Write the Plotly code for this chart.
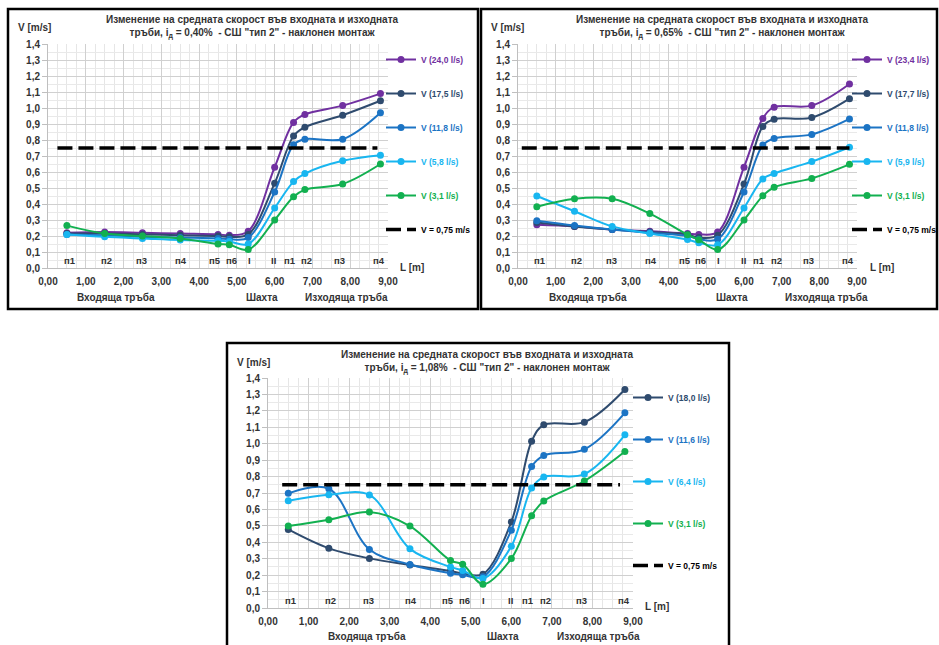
import plotly.graph_objects as go

W, H = 939, 645

# ---------------- data ----------------
x_pts = [0.5, 1.5, 2.5, 3.5, 4.5, 4.8, 5.3, 6.0, 6.5, 6.8, 7.8, 8.8]
pt_labels = ["п1", "п2", "п3", "п4", "п5", "п6", "I", "II", "п1", "п2", "п3", "п4"]

# chart 1 : i = 0,40 %
c1_names = ["V (24,0 l/s)", "V (17,5 l/s)", "V (11,8 l/s)", "V (5,8 l/s)", "V (3,1 l/s)"]
c1_v1 = [0.22, 0.225, 0.22, 0.215, 0.21, 0.205, 0.23, 0.63, 0.91, 0.96, 1.015, 1.09]
c1_v2 = [0.215, 0.215, 0.21, 0.205, 0.20, 0.195, 0.21, 0.53, 0.825, 0.88, 0.955, 1.045]
c1_v3 = [0.21, 0.205, 0.195, 0.19, 0.185, 0.18, 0.19, 0.475, 0.77, 0.805, 0.805, 0.97]
c1_v4 = [0.21, 0.195, 0.185, 0.175, 0.17, 0.165, 0.15, 0.375, 0.54, 0.59, 0.67, 0.705]
c1_v5 = [0.265, 0.215, 0.20, 0.185, 0.15, 0.145, 0.115, 0.30, 0.445, 0.49, 0.525, 0.65]

# chart 2 : i = 0,65 %
c2_names = ["V (23,4 l/s)", "V (17,7 l/s)", "V (11,8 l/s)", "V (5,9 l/s)", "V (3,1 l/s)"]
c2_v1 = [0.27, 0.26, 0.24, 0.23, 0.215, 0.21, 0.225, 0.63, 0.935, 1.005, 1.015, 1.15]
c2_v2 = [0.285, 0.26, 0.24, 0.225, 0.21, 0.19, 0.205, 0.525, 0.885, 0.93, 0.94, 1.058]
c2_v3 = [0.295, 0.265, 0.24, 0.22, 0.20, 0.18, 0.18, 0.475, 0.768, 0.81, 0.835, 0.932]
c2_v4 = [0.45, 0.355, 0.26, 0.215, 0.178, 0.158, 0.145, 0.375, 0.557, 0.591, 0.665, 0.755]
c2_v5 = [0.383, 0.433, 0.433, 0.34, 0.208, 0.177, 0.115, 0.30, 0.451, 0.504, 0.56, 0.648]

# chart 3 : i = 1,08 %
c3_names = ["V (18,0 l/s)", "V (11,6 l/s)", "V (6,4 l/s)", "V (3,1 l/s)"]
c3_v1 = [0.478, 0.363, 0.302, 0.262, 0.225, 0.21, 0.206, 0.524, 1.015, 1.115, 1.131, 1.33]
c3_v2 = [0.698, 0.726, 0.356, 0.265, 0.212, 0.202, 0.19, 0.474, 0.861, 0.928, 0.966, 1.188]
c3_v3 = [0.653, 0.689, 0.688, 0.36, 0.25, 0.228, 0.18, 0.376, 0.73, 0.797, 0.815, 1.054]
c3_v4 = [0.499, 0.537, 0.584, 0.499, 0.289, 0.267, 0.145, 0.301, 0.562, 0.651, 0.773, 0.953]

limit_name = "V = 0,75 m/s"
limit_value = 0.75
limit_x1 = [0.25, 8.72]
limit_x2 = [0.1, 8.8]
limit_x3 = [0.35, 8.68]

titles = [
    "Изменение на средната скорост във входната и изходната<br>тръби, i<sub>д</sub> = 0,40%  - СШ \"тип 2\" - наклонен монтаж",
    "Изменение на средната скорост във входната и изходната<br>тръби, i<sub>д</sub> = 0,65%  - СШ \"тип 2\" - наклонен монтаж",
    "Изменение на средната скорост във входната и изходната<br>тръби, i<sub>д</sub> = 1,08%  - СШ \"тип 2\" - наклонен монтаж",
]
section_labels = ["Входяща тръба", "Шахта", "Изходяща тръба"]

# ---------------- style ----------------
PURPLE = "#7030A0"
DARK = "#2F4B6E"
BLUE = "#1C74C4"
LIGHT = "#18B6F0"
GREEN = "#12B050"
c12_colors = [PURPLE, DARK, BLUE, LIGHT, GREEN]
c3_colors = [DARK, BLUE, LIGHT, GREEN]
FONT = "Liberation Sans, Arial, sans-serif"
TXT = "#333333"
label_shift_px = [3, 2, -1, 1, -3, 2, 1, -1, -4, 2, -3, -1]


def fx(px):
    return px / W


def fy(py):
    return 1 - py / H


# panel geometry in pixels: plot area (x0, x1, ytop, ybottom)
panels = [
    dict(x0=48, x1=388, yt=44, yb=268),
    dict(x0=518, x1=857, yt=44, yb=268),
    dict(x0=268, x1=633, yt=378, yb=608),
]

fig = go.Figure()

series_sets = [
    (c1_names, [c1_v1, c1_v2, c1_v3, c1_v4, c1_v5], c12_colors, limit_x1),
    (c2_names, [c2_v1, c2_v2, c2_v3, c2_v4, c2_v5], c12_colors, limit_x2),
    (c3_names, [c3_v1, c3_v2, c3_v3, c3_v4], c3_colors, limit_x3),
]

for i, (names, vals, cols, lx) in enumerate(series_sets):
    sfx = "" if i == 0 else str(i + 1)
    leg = "legend" + sfx
    for j, (nm, v, c) in enumerate(zip(names, vals, cols)):
        fig.add_trace(go.Scatter(
            x=x_pts, y=v, mode="lines+markers",
            name=f'<span style="color:{c}">{nm}</span>',
            line=dict(color=c, width=2, shape="spline", smoothing=1.0),
            marker=dict(color=c, size=7),
            xaxis="x" + sfx, yaxis="y" + sfx,
            legend=leg, legendgroup=f"g{i}_{j}", showlegend=True,
        ))
    fig.add_trace(go.Scatter(
        x=lx, y=[limit_value, limit_value], mode="lines",
        name=f'<span style="color:#000000">{limit_name}</span>',
        line=dict(color="#000000", width=3.5, dash="15px,6px"),
        xaxis="x" + sfx, yaxis="y" + sfx,
        legend=leg, legendgroup=f"g{i}_lim", showlegend=True,
    ))

tickfont = dict(family=FONT, size=10, color=TXT, weight="bold")
layout = dict(
    width=W, height=H,
    margin=dict(l=0, r=0, t=0, b=0, autoexpand=False),
    paper_bgcolor="white", plot_bgcolor="white",
    separators=", ",
    showlegend=True,
    font=dict(family=FONT, size=10, color=TXT),
)

for i, p in enumerate(panels):
    sfx = "" if i == 0 else str(i + 1)
    layout["xaxis" + sfx] = dict(
        domain=[fx(p["x0"]), fx(p["x1"])], anchor="y" + sfx,
        range=[0, 9], dtick=1, tick0=0, tickformat=".2f",
        showgrid=True, gridcolor="#D0D0D0", gridwidth=1,
        minor=dict(dtick=0.25, showgrid=True, gridcolor="#E6E6E6", gridwidth=1),
        zeroline=False, showline=True, linecolor="#BFBFBF", linewidth=1,
        ticks="", tickfont=tickfont, ticklabelstandoff=4, fixedrange=True,
    )
    layout["yaxis" + sfx] = dict(
        domain=[fy(p["yb"]), fy(p["yt"])], anchor="x" + sfx,
        range=[0, 1.4], dtick=0.1, tick0=0, tickformat=".1f",
        showgrid=True, gridcolor="#D0D0D0", gridwidth=1,
        minor=dict(dtick=0.05, showgrid=True, gridcolor="#E9E9E9", gridwidth=1),
        zeroline=False, showline=True, linecolor="#BFBFBF", linewidth=1,
        ticks="outside", ticklen=5, tickcolor="#BFBFBF",
        tickfont=tickfont, fixedrange=True,
    )

legfont = dict(family=FONT, size=8.5, weight="bold")
layout["legend"] = dict(x=fx(381), y=fy(45), xanchor="left", yanchor="top",
                        tracegroupgap=15, font=legfont, bgcolor="rgba(0,0,0,0)",
                        itemwidth=30)
layout["legend2"] = dict(x=fx(847), y=fy(45), xanchor="left", yanchor="top",
                         tracegroupgap=15, font=legfont, bgcolor="rgba(0,0,0,0)",
                         itemwidth=30)
layout["legend3"] = dict(x=fx(628), y=fy(383), xanchor="left", yanchor="top",
                         tracegroupgap=23, font=legfont, bgcolor="rgba(0,0,0,0)",
                         itemwidth=30)

fig.update_layout(**layout)

# ---------------- annotations ----------------
ann = []
afont = dict(family=FONT, size=10, color=TXT, weight="bold")
pfont = dict(family=FONT, size=9.5, color=TXT, weight="bold")
title_pos = [(252, 27.5), (722, 27.5), (487, 361.5)]
vlab_pos = [(34, 28), (507, 28), (254, 362)]
llab_pos = [(412, 267), (882, 267), (657, 606)]
sec_pos = [
    [(116, 297), (262, 297), (346, 297)],
    [(588, 297), (732, 297), (826, 297)],
    [(367, 636), (503, 636), (598, 636)],
]
for i in range(3):
    sfx = "" if i == 0 else str(i + 1)
    tx, ty = title_pos[i]
    ann.append(dict(x=fx(tx), y=fy(ty), xref="paper", yref="paper", text=titles[i],
                    showarrow=False, xanchor="center", yanchor="middle",
                    font=dict(family=FONT, size=10, color=TXT, weight="bold")))
    vx, vy = vlab_pos[i]
    ann.append(dict(x=fx(vx), y=fy(vy), xref="paper", yref="paper", text="V [m/s]",
                    showarrow=False, xanchor="center", yanchor="middle", font=afont))
    lx_, ly_ = llab_pos[i]
    ann.append(dict(x=fx(lx_), y=fy(ly_), xref="paper", yref="paper", text="L [m]",
                    showarrow=False, xanchor="center", yanchor="middle", font=afont))
    for lab, (sx, sy) in zip(section_labels, sec_pos[i]):
        ann.append(dict(x=fx(sx), y=fy(sy), xref="paper", yref="paper", text=lab,
                        showarrow=False, xanchor="center", yanchor="middle", font=afont))
    for xv, lab, sh in zip(x_pts, pt_labels, label_shift_px):
        ann.append(dict(x=xv, y=0.045, xref="x" + sfx, yref="y" + sfx, text=lab,
                        showarrow=False, xanchor="center", yanchor="middle",
                        xshift=sh, font=pfont))

shapes = [
    dict(type="rect", xref="paper", yref="paper", x0=fx(8), x1=fx(478), y0=fy(309), y1=fy(9),
         line=dict(color="#000000", width=2.5)),
    dict(type="rect", xref="paper", yref="paper", x0=fx(481), x1=fx(937), y0=fy(309), y1=fy(9),
         line=dict(color="#000000", width=2.5)),
    dict(type="rect", xref="paper", yref="paper", x0=fx(227), x1=fx(729), y0=fy(660), y1=fy(343),
         line=dict(color="#000000", width=2.5)),
]
fig.update_layout(annotations=ann, shapes=shapes)

fig.write_html("out.html", config={"displayModeBar": False},
               post_script="document.body.style.margin='0';")
